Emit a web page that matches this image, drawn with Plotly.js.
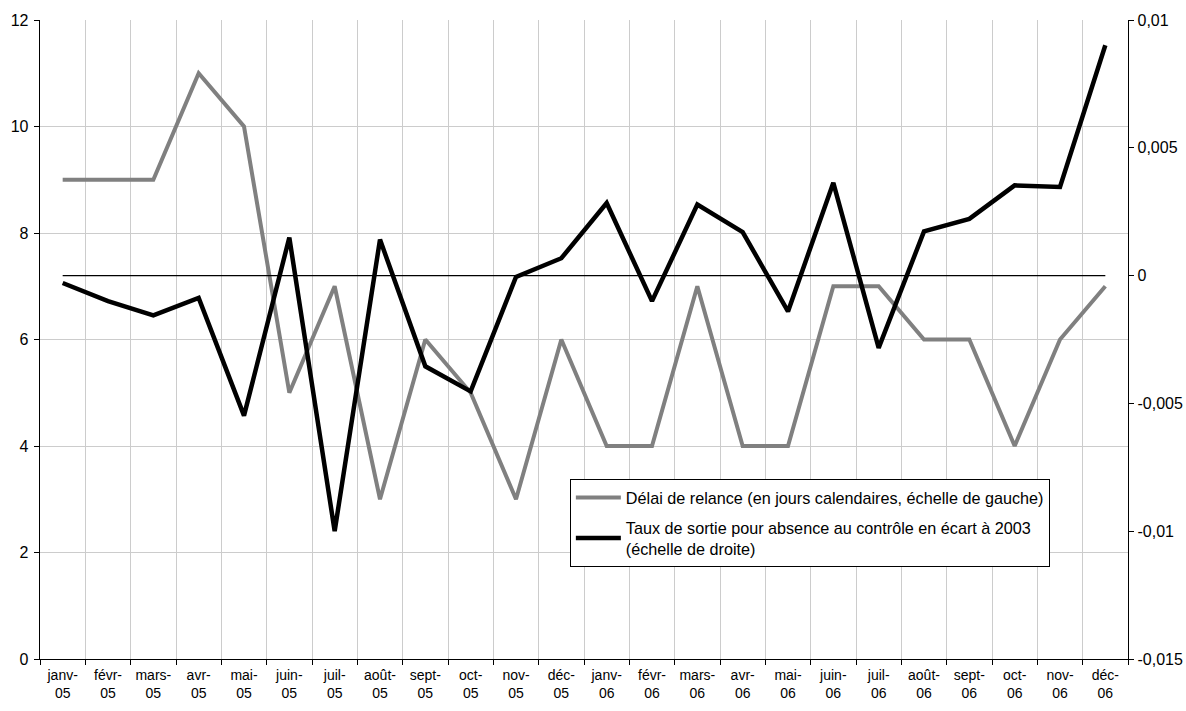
<!DOCTYPE html>
<html>
<head>
<meta charset="utf-8">
<script src="https://cdn.plot.ly/plotly-3.0.1.min.js"></script>
<style>
html,body{margin:0;padding:0;background:#fff;}
#chart{width:1186px;height:711px;}
</style>
</head>
<body>
<div id="chart"></div>
<script>
const categories = ["janv-05","févr-05","mars-05","avr-05","mai-05","juin-05","juil-05","août-05","sept-05","oct-05","nov-05","déc-05",
                    "janv-06","févr-06","mars-06","avr-06","mai-06","juin-06","juil-06","août-06","sept-06","oct-06","nov-06","déc-06"];
const tickLabels = ["janv-<br>05","févr-<br>05","mars-<br>05","avr-<br>05","mai-<br>05","juin-<br>05","juil-<br>05","août-<br>05","sept-<br>05","oct-<br>05","nov-<br>05","déc-<br>05",
                    "janv-<br>06","févr-<br>06","mars-<br>06","avr-<br>06","mai-<br>06","juin-<br>06","juil-<br>06","août-<br>06","sept-<br>06","oct-<br>06","nov-<br>06","déc-<br>06"];
const delaiRelance = [9,9,9,11,10,5,7,3,6,5,3,6,4,4,7,4,4,7,7,6,6,4,6,7];
const tauxSortie = [-0.00029,-0.00100,-0.00156,-0.00087,-0.00548,0.00149,-0.01000,0.00141,-0.00355,-0.00453,-0.00005,0.00068,
                    0.00284,-0.00100,0.00278,0.00170,-0.00140,0.00363,-0.00283,0.00173,0.00222,0.00353,0.00347,0.00901];
const referenceLevel = 0;
const leftTicks = [0,2,4,6,8,10,12];
const rightTickVals = [-0.015,-0.01,-0.005,0,0.005,0.01];
const rightTickText = ["-0,015","-0,01","-0,005","0","0,005","0,01"];

const font = "Liberation Sans, Arial, sans-serif";

const traces = [
  {
    x: categories, y: categories.map(() => referenceLevel), yaxis: "y2",
    type: "scatter", mode: "lines", line: {color: "#000", width: 1.3},
    showlegend: false, hoverinfo: "skip"
  },
  {
    x: categories, y: delaiRelance, yaxis: "y",
    type: "scatter", mode: "lines", name: "Délai de relance (en jours calendaires, échelle de gauche)",
    legendgroup: "a",
    line: {color: "#808080", width: 4}
  },
  {
    x: categories, y: tauxSortie, yaxis: "y2",
    type: "scatter", mode: "lines", name: "Taux de sortie pour absence au contrôle en écart à 2003<br>(échelle de droite)",
    legendgroup: "b",
    line: {color: "#000000", width: 4.5}
  }
];

const layout = {
  width: 1186, height: 711,
  margin: {l: 40, r: 58, t: 20, b: 52},
  paper_bgcolor: "#fff", plot_bgcolor: "#fff",
  font: {family: font, size: 15, color: "#000"},
  showlegend: true,
  legend: {
    x: 0.487, y: 0.281, xanchor: "left", yanchor: "top",
    bgcolor: "#fff", bordercolor: "#000", borderwidth: 1,
    font: {family: font, size: 16.2, color: "#000"},
    tracegroupgap: 6, itemwidth: 45
  },
  xaxis: {
    type: "category", range: [-0.5, 23.5],
    tickmode: "array", tickvals: categories, ticktext: tickLabels,
    tickson: "boundaries", ticks: "outside", ticklen: 5, tickcolor: "#000",
    tickangle: 0, ticklabelstandoff: 3,
    showgrid: true, gridcolor: "#cccccc", gridwidth: 1,
    showline: true, linecolor: "#000", linewidth: 1.3,
    tickfont: {family: font, size: 14, color: "#000"},
    zeroline: false, fixedrange: true
  },
  yaxis: {
    range: [0, 12], tickmode: "array", tickvals: leftTicks,
    ticks: "outside", ticklen: 5, tickcolor: "#000",
    ticklabelstandoff: 2,
    showgrid: true, gridcolor: "#cccccc", gridwidth: 1,
    showline: true, linecolor: "#000", linewidth: 1.3,
    tickfont: {family: font, size: 16, color: "#000"},
    zeroline: false, fixedrange: true
  },
  yaxis2: {
    overlaying: "y", side: "right", range: [-0.015, 0.01],
    tickmode: "array", tickvals: rightTickVals, ticktext: rightTickText,
    ticks: "outside", ticklen: 5, tickcolor: "#000",
    showgrid: false, showline: true, linecolor: "#000", linewidth: 1.3,
    tickfont: {family: font, size: 16, color: "#000"},
    zeroline: false, fixedrange: true
  }
};

Plotly.newPlot("chart", traces, layout, {displayModeBar: false, staticPlot: true});
</script>
</body>
</html>
